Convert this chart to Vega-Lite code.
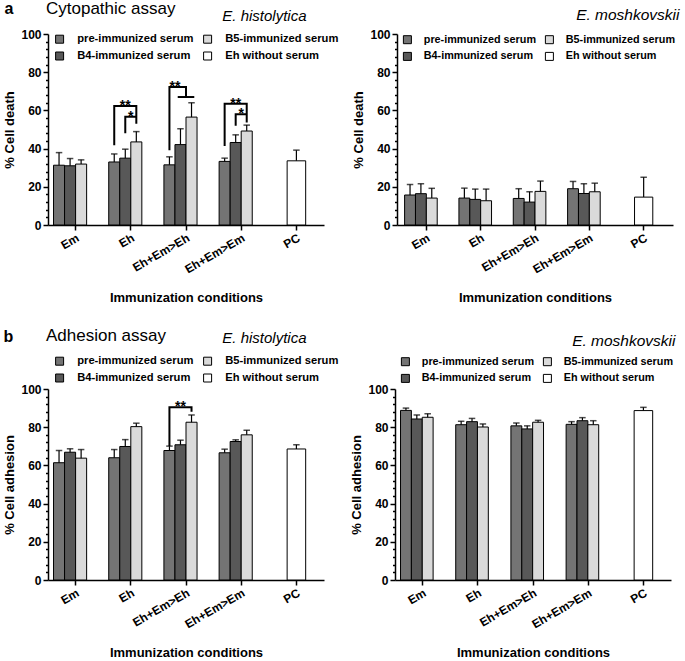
{
"$schema": "https://vega.github.io/schema/vega-lite/v6.json",
"padding": {"left": 3, "top": 0, "right": 2, "bottom": 2},
"config": {
  "font": "Liberation Sans",
  "view": {"stroke": null},
  "axis": {"grid": false, "domainColor": "black", "domainWidth": 1.5, "tickColor": "black", "tickWidth": 1.5, "labelFont": "Liberation Sans", "labelFontWeight": "bold", "labelFontSize": 12, "labelColor": "black", "titleFont": "Liberation Sans", "titleFontWeight": "bold", "titleFontSize": 13, "titleColor": "black"},
  "axisX": {"tickSize": 5, "labelPadding": 2, "labelAngle": -30},
  "legend": {"columns": 2, "symbolType": "square", "symbolSize": 64, "symbolStrokeColor": "black", "symbolStrokeWidth": 1, "labelFont": "Liberation Sans", "labelFontWeight": "bold", "labelFontSize": 11.2, "labelColor": "black", "labelOffset": 12, "columnPadding": -13, "rowPadding": 4, "symbolOpacity": 1, "titleFont": "Liberation Sans", "titleFontWeight": "normal", "titleFontSize": 17, "titleColor": "black", "titleLimit": 300}
},
"datasets": {
  "AL": [
    {"cond":"Em","serum":"pre-immunized serum","mean":31.3,"upper":37.9},
    {"cond":"Em","serum":"B4-immunized serum","mean":31,"upper":34.8},
    {"cond":"Em","serum":"B5-immunized serum","mean":31.9,"upper":34.1},
    {"cond":"Eh","serum":"pre-immunized serum","mean":33,"upper":37.2},
    {"cond":"Eh","serum":"B4-immunized serum","mean":35,"upper":39.7},
    {"cond":"Eh","serum":"B5-immunized serum","mean":43.5,"upper":48.9},
    {"cond":"Eh+Em>Eh","serum":"pre-immunized serum","mean":31.5,"upper":35.7},
    {"cond":"Eh+Em>Eh","serum":"B4-immunized serum","mean":42.1,"upper":50.4},
    {"cond":"Eh+Em>Eh","serum":"B5-immunized serum","mean":56.5,"upper":64},
    {"cond":"Eh+Em>Em","serum":"pre-immunized serum","mean":33.3,"upper":35},
    {"cond":"Eh+Em>Em","serum":"B4-immunized serum","mean":43.2,"upper":47.2},
    {"cond":"Eh+Em>Em","serum":"B5-immunized serum","mean":49.2,"upper":52.3},
    {"cond":"PC","serum":"Eh without serum","mean":33.6,"upper":39.2}
  ],
  "AR": [
    {"cond":"Em","serum":"pre-immunized serum","mean":15.7,"upper":21.2},
    {"cond":"Em","serum":"B4-immunized serum","mean":16.4,"upper":21.6},
    {"cond":"Em","serum":"B5-immunized serum","mean":14.1,"upper":19.2},
    {"cond":"Eh","serum":"pre-immunized serum","mean":14.1,"upper":19.3},
    {"cond":"Eh","serum":"B4-immunized serum","mean":13.4,"upper":18.8},
    {"cond":"Eh","serum":"B5-immunized serum","mean":12.7,"upper":18.8},
    {"cond":"Eh+Em>Eh","serum":"pre-immunized serum","mean":13.9,"upper":19},
    {"cond":"Eh+Em>Eh","serum":"B4-immunized serum","mean":12,"upper":17.4},
    {"cond":"Eh+Em>Eh","serum":"B5-immunized serum","mean":17.6,"upper":23},
    {"cond":"Eh+Em>Em","serum":"pre-immunized serum","mean":19,"upper":22.8},
    {"cond":"Eh+Em>Em","serum":"B4-immunized serum","mean":16.5,"upper":21.6},
    {"cond":"Eh+Em>Em","serum":"B5-immunized serum","mean":17.4,"upper":21.9},
    {"cond":"PC","serum":"Eh without serum","mean":14.6,"upper":25}
  ],
  "BL": [
    {"cond":"Em","serum":"pre-immunized serum","mean":61.4,"upper":67.8},
    {"cond":"Em","serum":"B4-immunized serum","mean":66.9,"upper":68.7},
    {"cond":"Em","serum":"B5-immunized serum","mean":63.8,"upper":68.3},
    {"cond":"Eh","serum":"pre-immunized serum","mean":64,"upper":68.3},
    {"cond":"Eh","serum":"B4-immunized serum","mean":69.9,"upper":73.5},
    {"cond":"Eh","serum":"B5-immunized serum","mean":80.3,"upper":82.1},
    {"cond":"Eh+Em>Eh","serum":"pre-immunized serum","mean":67.8,"upper":70.1},
    {"cond":"Eh+Em>Eh","serum":"B4-immunized serum","mean":70.8,"upper":73.2},
    {"cond":"Eh+Em>Eh","serum":"B5-immunized serum","mean":82.6,"upper":86.4},
    {"cond":"Eh+Em>Em","serum":"pre-immunized serum","mean":66.6,"upper":68.5},
    {"cond":"Eh+Em>Em","serum":"B4-immunized serum","mean":72.5,"upper":73.4},
    {"cond":"Eh+Em>Em","serum":"B5-immunized serum","mean":76,"upper":78.4},
    {"cond":"PC","serum":"Eh without serum","mean":68.6,"upper":70.8}
  ],
  "BR": [
    {"cond":"Em","serum":"pre-immunized serum","mean":88.8,"upper":90},
    {"cond":"Em","serum":"B4-immunized serum","mean":84.3,"upper":86.4},
    {"cond":"Em","serum":"B5-immunized serum","mean":85.2,"upper":87.1},
    {"cond":"Eh","serum":"pre-immunized serum","mean":81.3,"upper":83.1},
    {"cond":"Eh","serum":"B4-immunized serum","mean":82.9,"upper":84.6},
    {"cond":"Eh","serum":"B5-immunized serum","mean":80.1,"upper":81.7},
    {"cond":"Eh+Em>Eh","serum":"pre-immunized serum","mean":80.7,"upper":82.2},
    {"cond":"Eh+Em>Eh","serum":"B4-immunized serum","mean":79.1,"upper":80.7},
    {"cond":"Eh+Em>Eh","serum":"B5-immunized serum","mean":82.6,"upper":83.6},
    {"cond":"Eh+Em>Em","serum":"pre-immunized serum","mean":81.5,"upper":82.9},
    {"cond":"Eh+Em>Em","serum":"B4-immunized serum","mean":83.4,"upper":85},
    {"cond":"Eh+Em>Em","serum":"B5-immunized serum","mean":81.3,"upper":83.4},
    {"cond":"PC","serum":"Eh without serum","mean":88.7,"upper":90.4}
  ],
  "ALbr": [
    {"id":1,"k":1,"cond":"Eh","at":"pre","v":41.8},
    {"id":1,"k":2,"cond":"Eh","at":"pre","v":62.3},
    {"id":1,"k":3,"cond":"Eh","at":"B5","v":62.3},
    {"id":1,"k":4,"cond":"Eh","at":"B5","v":53},
    {"id":2,"k":1,"cond":"Eh","at":"B4","v":48},
    {"id":2,"k":2,"cond":"Eh","at":"B4","v":56.7},
    {"id":2,"k":3,"cond":"Eh","at":"B5","v":56.7},
    {"id":3,"k":1,"cond":"Eh+Em>Eh","at":"pre","v":39.2},
    {"id":3,"k":2,"cond":"Eh+Em>Eh","at":"pre","v":72.2},
    {"id":3,"k":3,"cond":"Eh+Em>Eh","at":"B4|B5","v":72.2},
    {"id":3,"k":4,"cond":"Eh+Em>Eh","at":"B4|B5","v":67},
    {"id":4,"k":1,"cond":"Eh+Em>Eh","at":"Tl","v":67},
    {"id":4,"k":2,"cond":"Eh+Em>Eh","at":"Tr","v":67},
    {"id":5,"k":1,"cond":"Eh+Em>Em","at":"pre","v":41.4},
    {"id":5,"k":2,"cond":"Eh+Em>Em","at":"pre","v":63.5},
    {"id":5,"k":3,"cond":"Eh+Em>Em","at":"B5","v":63.5},
    {"id":5,"k":4,"cond":"Eh+Em>Em","at":"B5","v":53.6},
    {"id":6,"k":1,"cond":"Eh+Em>Em","at":"B4","v":51.9},
    {"id":6,"k":2,"cond":"Eh+Em>Em","at":"B4","v":58},
    {"id":6,"k":3,"cond":"Eh+Em>Em","at":"B5","v":58}
  ],
  "ALst": [
    {"cond":"Eh","at":"B4","v":62.3,"label":"**"},
    {"cond":"Eh","at":"B4|B5","v":56.7,"label":"*"},
    {"cond":"Eh+Em>Eh","at":"pre|B4","v":72.2,"label":"**"},
    {"cond":"Eh+Em>Em","at":"B4","v":63.5,"label":"**"},
    {"cond":"Eh+Em>Em","at":"B4|B5","v":58,"label":"*"}
  ],
  "BLbr": [
    {"id":1,"k":1,"cond":"Eh+Em>Eh","at":"pre","v":70.1},
    {"id":1,"k":2,"cond":"Eh+Em>Eh","at":"pre","v":90.4},
    {"id":1,"k":3,"cond":"Eh+Em>Eh","at":"B5","v":90.4},
    {"id":1,"k":4,"cond":"Eh+Em>Eh","at":"B5","v":88.1}
  ],
  "BLst": [
    {"cond":"Eh+Em>Eh","at":"B4","v":90.4,"label":"**"}
  ]
},
"resolve": {"scale": {"fill": "independent"}, "legend": {"fill": "independent"}},
"spacing": 23,
"vconcat": [
 {
  "resolve": {"scale": {"fill": "independent"}, "legend": {"fill": "independent"}},
  "spacing": 13,
  "hconcat": [
   {
    "width": 276, "height": 191,
    "resolve": {"scale": {"xOffset": "independent"}, "axis": {"x": "independent", "y": "independent"}},
    "layer": [
     {"data": {"name": "AL"}, "transform": [{"filter": "datum.cond !== 'PC'"}], "mark": {"type": "bar", "stroke": "black", "strokeWidth": 1},
      "encoding": {
       "x": {"field": "cond", "type": "nominal", "scale": {"domain": ["Em","Eh","Eh+Em>Eh","Eh+Em>Em","PC"], "paddingInner": 0.2, "paddingOuter": 0.1}, "axis": {"title": "Immunization conditions", "titlePadding": 17}},
       "xOffset": {"field": "serum", "type": "nominal", "scale": {"domain": ["pre-immunized serum","B4-immunized serum","B5-immunized serum","Eh without serum"]}},
       "y": {"field": "mean", "type": "quantitative", "scale": {"domain": [0,100], "nice": false}, "axis": {"title": "% Cell death", "values": [0,4,8,12,16,20,24,28,32,36,40,44,48,52,56,60,64,68,72,76,80,84,88,92,96,100], "labelExpr": "datum.value % 20 === 0 ? datum.label : ''", "labelOverlap": false, "tickSize": 5, "tickDash": {"condition": {"test": "datum.value % 20 === 0", "value": []}, "value": [2.5, 10]}, "labelPadding": 2, "titlePadding": 4}},
       "fill": {"field": "serum", "type": "nominal", "scale": {"domain": ["pre-immunized serum","B4-immunized serum","B5-immunized serum","Eh without serum"], "range": ["#747474","#585858","#dadada","#ffffff"]}, "legend": {"title": "Cytopathic assay", "orient": "none", "legendX": -2, "legendY": -32.6, "titlePadding": 15, "symbolOffset": 8}}
      }},
     {"data": {"name": "AL"}, "transform": [{"filter": "datum.cond === 'PC'"}], "mark": {"type": "bar", "stroke": "black", "strokeWidth": 1, "width": {"band": 0.42}},
      "encoding": {"x": {"field": "cond", "type": "nominal", "axis": null}, "y": {"field": "mean", "type": "quantitative", "axis": null}, "fill": {"field": "serum", "type": "nominal"}}},
     {"data": {"name": "AL"}, "transform": [{"filter": "datum.cond !== 'PC'"}], "mark": {"type": "rule", "color": "black", "strokeWidth": 1.2},
      "encoding": {
       "x": {"field": "cond", "type": "nominal", "axis": {"orient": "top", "title": "E. histolytica", "domain": false, "ticks": false, "labels": false, "titleX": 258, "titleY": -14, "titleAlign": "right", "titleBaseline": "alphabetic", "titleAngle": 0, "titleFontStyle": "italic", "titleFontWeight": "normal", "titleFontSize": 15}},
       "xOffset": {"field": "serum", "type": "nominal", "scale": {"domain": ["pre-immunized serum","B4-immunized serum","B5-immunized serum","Eh without serum"]}},
       "y": {"field": "mean", "type": "quantitative", "axis": {"orient": "right", "title": "a", "domain": false, "ticks": false, "labels": false, "titleX": -320, "titleY": -20.5, "titleAngle": 0, "titleAlign": "left", "titleBaseline": "alphabetic", "titleFontSize": 16, "titleFontWeight": "bold"}},
       "y2": {"field": "upper"}}},
     {"data": {"name": "AL"}, "transform": [{"filter": "datum.cond !== 'PC'"}], "mark": {"type": "tick", "color": "black", "orient": "horizontal", "size": 6.5, "thickness": 1.5},
      "encoding": {"x": {"field": "cond", "type": "nominal", "axis": null}, "xOffset": {"field": "serum", "type": "nominal", "scale": {"domain": ["pre-immunized serum","B4-immunized serum","B5-immunized serum","Eh without serum"]}}, "y": {"field": "upper", "type": "quantitative", "axis": null}}},
     {"data": {"name": "AL"}, "transform": [{"filter": "datum.cond === 'PC'"}], "mark": {"type": "rule", "color": "black", "strokeWidth": 1.2},
      "encoding": {"x": {"field": "cond", "type": "nominal", "axis": null}, "y": {"field": "mean", "type": "quantitative", "axis": null}, "y2": {"field": "upper"}}},
     {"data": {"name": "AL"}, "transform": [{"filter": "datum.cond === 'PC'"}], "mark": {"type": "tick", "color": "black", "orient": "horizontal", "size": 6.5, "thickness": 1.5},
      "encoding": {"x": {"field": "cond", "type": "nominal", "axis": null}, "y": {"field": "upper", "type": "quantitative", "axis": null}}},
     {"data": {"name": "ALbr"}, "mark": {"type": "line", "color": "black", "strokeWidth": 2, "strokeJoin": "miter"},
      "encoding": {
       "x": {"field": "cond", "type": "nominal", "axis": null},
       "xOffset": {"field": "at", "type": "nominal", "scale": {"type": "point", "padding": 0, "domain": ["o0","o1","pre","o3","pre|B4","Tl","B4","o7","B4|B5","o9","B5","Tr","B5|Eh","o13","o14","o15","o16"]}},
       "y": {"field": "v", "type": "quantitative", "axis": null},
       "detail": {"field": "id", "type": "nominal"},
       "order": {"field": "k", "type": "quantitative"}}},
     {"data": {"name": "ALst"}, "mark": {"type": "text", "color": "black", "fontSize": 14, "fontWeight": "bold", "baseline": "alphabetic", "dy": 4},
      "encoding": {
       "x": {"field": "cond", "type": "nominal", "axis": null},
       "xOffset": {"field": "at", "type": "nominal", "scale": {"type": "point", "padding": 0, "domain": ["o0","o1","pre","o3","pre|B4","Tl","B4","o7","B4|B5","o9","B5","Tr","B5|Eh","o13","o14","o15","o16"]}},
       "y": {"field": "v", "type": "quantitative", "axis": null},
       "text": {"field": "label"}}}
    ]
   },
   {
    "width": 276, "height": 191,
    "resolve": {"axis": {"x": "independent", "y": "independent"}},
    "data": {"name": "AR"},
    "layer": [
     {"transform": [{"filter": "datum.cond !== 'PC'"}], "mark": {"type": "bar", "stroke": "black", "strokeWidth": 1},
      "encoding": {
       "x": {"field": "cond", "type": "nominal", "scale": {"domain": ["Em","Eh","Eh+Em>Eh","Eh+Em>Em","PC"], "paddingInner": 0.2, "paddingOuter": 0.14}, "axis": {"title": "Immunization conditions", "titlePadding": 17}},
       "xOffset": {"field": "serum", "type": "nominal", "scale": {"domain": ["pre-immunized serum","B4-immunized serum","B5-immunized serum","Eh without serum"]}},
       "y": {"field": "mean", "type": "quantitative", "scale": {"domain": [0,100], "nice": false}, "axis": {"title": "% Cell death", "values": [0,4,8,12,16,20,24,28,32,36,40,44,48,52,56,60,64,68,72,76,80,84,88,92,96,100], "labelExpr": "datum.value % 20 === 0 ? datum.label : ''", "labelOverlap": false, "tickSize": 5, "tickDash": {"condition": {"test": "datum.value % 20 === 0", "value": []}, "value": [2.5, 10]}, "labelPadding": 2, "titlePadding": 4}},
       "fill": {"field": "serum", "type": "nominal", "scale": {"domain": ["pre-immunized serum","B4-immunized serum","B5-immunized serum","Eh without serum"], "range": ["#747474","#585858","#dadada","#ffffff"]}, "legend": {"title": null, "orient": "none", "legendX": -3, "legendY": 0, "symbolOffset": 8, "labelFontSize": 10.8, "labelOffset": 11}}
      }},
     {"transform": [{"filter": "datum.cond === 'PC'"}], "mark": {"type": "bar", "stroke": "black", "strokeWidth": 1, "width": {"band": 0.42}},
      "encoding": {"x": {"field": "cond", "type": "nominal", "axis": null}, "y": {"field": "mean", "type": "quantitative", "axis": null}, "fill": {"field": "serum", "type": "nominal"}}},
     {"transform": [{"filter": "datum.cond !== 'PC'"}], "mark": {"type": "rule", "color": "black", "strokeWidth": 1.2},
      "encoding": {
       "x": {"field": "cond", "type": "nominal", "axis": {"orient": "top", "title": "E. moshkovskii", "domain": false, "ticks": false, "labels": false, "titleX": 282, "titleY": -15, "titleAlign": "right", "titleBaseline": "alphabetic", "titleAngle": 0, "titleFontStyle": "italic", "titleFontWeight": "normal", "titleFontSize": 15.5}},
       "xOffset": {"field": "serum", "type": "nominal"}, "y": {"field": "mean", "type": "quantitative", "axis": null}, "y2": {"field": "upper"}}},
     {"transform": [{"filter": "datum.cond !== 'PC'"}], "mark": {"type": "tick", "color": "black", "orient": "horizontal", "size": 6.5, "thickness": 1.5},
      "encoding": {"x": {"field": "cond", "type": "nominal", "axis": null}, "xOffset": {"field": "serum", "type": "nominal"}, "y": {"field": "upper", "type": "quantitative", "axis": null}}},
     {"transform": [{"filter": "datum.cond === 'PC'"}], "mark": {"type": "rule", "color": "black", "strokeWidth": 1.2},
      "encoding": {"x": {"field": "cond", "type": "nominal", "axis": null}, "y": {"field": "mean", "type": "quantitative", "axis": null}, "y2": {"field": "upper"}}},
     {"transform": [{"filter": "datum.cond === 'PC'"}], "mark": {"type": "tick", "color": "black", "orient": "horizontal", "size": 6.5, "thickness": 1.5},
      "encoding": {"x": {"field": "cond", "type": "nominal", "axis": null}, "y": {"field": "upper", "type": "quantitative", "axis": null}}}
    ]
   }
  ]
 },
 {
  "resolve": {"scale": {"fill": "independent"}, "legend": {"fill": "independent"}},
  "spacing": 11,
  "hconcat": [
   {
    "width": 276, "height": 191,
    "resolve": {"scale": {"xOffset": "independent"}, "axis": {"x": "independent", "y": "independent"}},
    "layer": [
     {"data": {"name": "BL"}, "transform": [{"filter": "datum.cond !== 'PC'"}], "mark": {"type": "bar", "stroke": "black", "strokeWidth": 1},
      "encoding": {
       "x": {"field": "cond", "type": "nominal", "scale": {"domain": ["Em","Eh","Eh+Em>Eh","Eh+Em>Em","PC"], "paddingInner": 0.2, "paddingOuter": 0.1}, "axis": {"title": "Immunization conditions", "titlePadding": 17}},
       "xOffset": {"field": "serum", "type": "nominal", "scale": {"domain": ["pre-immunized serum","B4-immunized serum","B5-immunized serum","Eh without serum"]}},
       "y": {"field": "mean", "type": "quantitative", "scale": {"domain": [0,100], "nice": false}, "axis": {"title": "% Cell adhesion", "values": [0,4,8,12,16,20,24,28,32,36,40,44,48,52,56,60,64,68,72,76,80,84,88,92,96,100], "labelExpr": "datum.value % 20 === 0 ? datum.label : ''", "labelOverlap": false, "tickSize": 5, "tickDash": {"condition": {"test": "datum.value % 20 === 0", "value": []}, "value": [2.5, 10]}, "labelPadding": 2, "titlePadding": 4}},
       "fill": {"field": "serum", "type": "nominal", "scale": {"domain": ["pre-immunized serum","B4-immunized serum","B5-immunized serum","Eh without serum"], "range": ["#747474","#585858","#dadada","#ffffff"]}, "legend": {"title": "Adhesion assay", "orient": "none", "legendX": -2, "legendY": -60.6, "titlePadding": 10, "symbolOffset": 8}}
      }},
     {"data": {"name": "BL"}, "transform": [{"filter": "datum.cond === 'PC'"}], "mark": {"type": "bar", "stroke": "black", "strokeWidth": 1, "width": {"band": 0.42}},
      "encoding": {"x": {"field": "cond", "type": "nominal", "axis": null}, "y": {"field": "mean", "type": "quantitative", "axis": null}, "fill": {"field": "serum", "type": "nominal"}}},
     {"data": {"name": "BL"}, "transform": [{"filter": "datum.cond !== 'PC'"}], "mark": {"type": "rule", "color": "black", "strokeWidth": 1.2},
      "encoding": {
       "x": {"field": "cond", "type": "nominal", "axis": {"orient": "top", "title": "E. histolytica", "domain": false, "ticks": false, "labels": false, "titleX": 258, "titleY": -47, "titleAlign": "right", "titleBaseline": "alphabetic", "titleAngle": 0, "titleFontStyle": "italic", "titleFontWeight": "normal", "titleFontSize": 15}},
       "xOffset": {"field": "serum", "type": "nominal", "scale": {"domain": ["pre-immunized serum","B4-immunized serum","B5-immunized serum","Eh without serum"]}},
       "y": {"field": "mean", "type": "quantitative", "axis": {"orient": "right", "title": "b", "domain": false, "ticks": false, "labels": false, "titleX": -321, "titleY": -48, "titleAngle": 0, "titleAlign": "left", "titleBaseline": "alphabetic", "titleFontSize": 16, "titleFontWeight": "bold"}},
       "y2": {"field": "upper"}}},
     {"data": {"name": "BL"}, "transform": [{"filter": "datum.cond !== 'PC'"}], "mark": {"type": "tick", "color": "black", "orient": "horizontal", "size": 6.5, "thickness": 1.5},
      "encoding": {"x": {"field": "cond", "type": "nominal", "axis": null}, "xOffset": {"field": "serum", "type": "nominal", "scale": {"domain": ["pre-immunized serum","B4-immunized serum","B5-immunized serum","Eh without serum"]}}, "y": {"field": "upper", "type": "quantitative", "axis": null}}},
     {"data": {"name": "BL"}, "transform": [{"filter": "datum.cond === 'PC'"}], "mark": {"type": "rule", "color": "black", "strokeWidth": 1.2},
      "encoding": {"x": {"field": "cond", "type": "nominal", "axis": null}, "y": {"field": "mean", "type": "quantitative", "axis": null}, "y2": {"field": "upper"}}},
     {"data": {"name": "BL"}, "transform": [{"filter": "datum.cond === 'PC'"}], "mark": {"type": "tick", "color": "black", "orient": "horizontal", "size": 6.5, "thickness": 1.5},
      "encoding": {"x": {"field": "cond", "type": "nominal", "axis": null}, "y": {"field": "upper", "type": "quantitative", "axis": null}}},
     {"data": {"name": "BLbr"}, "mark": {"type": "line", "color": "black", "strokeWidth": 2, "strokeJoin": "miter"},
      "encoding": {
       "x": {"field": "cond", "type": "nominal", "axis": null},
       "xOffset": {"field": "at", "type": "nominal", "scale": {"type": "point", "padding": 0, "domain": ["o0","o1","pre","o3","pre|B4","Tl","B4","o7","B4|B5","o9","B5","Tr","B5|Eh","o13","o14","o15","o16"]}},
       "y": {"field": "v", "type": "quantitative", "axis": null},
       "detail": {"field": "id", "type": "nominal"},
       "order": {"field": "k", "type": "quantitative"}}},
     {"data": {"name": "BLst"}, "mark": {"type": "text", "color": "black", "fontSize": 14, "fontWeight": "bold", "baseline": "alphabetic", "dy": 4},
      "encoding": {
       "x": {"field": "cond", "type": "nominal", "axis": null},
       "xOffset": {"field": "at", "type": "nominal", "scale": {"type": "point", "padding": 0, "domain": ["o0","o1","pre","o3","pre|B4","Tl","B4","o7","B4|B5","o9","B5","Tr","B5|Eh","o13","o14","o15","o16"]}},
       "y": {"field": "v", "type": "quantitative", "axis": null},
       "text": {"field": "label"}}}
    ]
   },
   {
    "width": 276, "height": 191,
    "resolve": {"axis": {"x": "independent", "y": "independent"}},
    "data": {"name": "BR"},
    "layer": [
     {"transform": [{"filter": "datum.cond !== 'PC'"}], "mark": {"type": "bar", "stroke": "black", "strokeWidth": 1},
      "encoding": {
       "x": {"field": "cond", "type": "nominal", "scale": {"domain": ["Em","Eh","Eh+Em>Eh","Eh+Em>Em","PC"], "paddingInner": 0.2, "paddingOuter": 0.1}, "axis": {"title": "Immunization conditions", "titlePadding": 17}},
       "xOffset": {"field": "serum", "type": "nominal", "scale": {"domain": ["pre-immunized serum","B4-immunized serum","B5-immunized serum","Eh without serum"]}},
       "y": {"field": "mean", "type": "quantitative", "scale": {"domain": [0,100], "nice": false}, "axis": {"title": "% Cell adhesion", "values": [0,4,8,12,16,20,24,28,32,36,40,44,48,52,56,60,64,68,72,76,80,84,88,92,96,100], "labelExpr": "datum.value % 20 === 0 ? datum.label : ''", "labelOverlap": false, "tickSize": 5, "tickDash": {"condition": {"test": "datum.value % 20 === 0", "value": []}, "value": [2.5, 10]}, "labelPadding": 2, "titlePadding": 4}},
       "fill": {"field": "serum", "type": "nominal", "scale": {"domain": ["pre-immunized serum","B4-immunized serum","B5-immunized serum","Eh without serum"], "range": ["#747474","#585858","#dadada","#ffffff"]}, "legend": {"title": null, "orient": "none", "legendX": -3, "legendY": -33, "symbolOffset": 8, "labelFontSize": 10.8, "labelOffset": 11}}
      }},
     {"transform": [{"filter": "datum.cond === 'PC'"}], "mark": {"type": "bar", "stroke": "black", "strokeWidth": 1, "width": {"band": 0.42}},
      "encoding": {"x": {"field": "cond", "type": "nominal", "axis": null}, "y": {"field": "mean", "type": "quantitative", "axis": null}, "fill": {"field": "serum", "type": "nominal"}}},
     {"transform": [{"filter": "datum.cond !== 'PC'"}], "mark": {"type": "rule", "color": "black", "strokeWidth": 1.2},
      "encoding": {
       "x": {"field": "cond", "type": "nominal", "axis": {"orient": "top", "title": "E. moshkovskii", "domain": false, "ticks": false, "labels": false, "titleX": 280, "titleY": -44, "titleAlign": "right", "titleBaseline": "alphabetic", "titleAngle": 0, "titleFontStyle": "italic", "titleFontWeight": "normal", "titleFontSize": 15.5}},
       "xOffset": {"field": "serum", "type": "nominal"}, "y": {"field": "mean", "type": "quantitative", "axis": null}, "y2": {"field": "upper"}}},
     {"transform": [{"filter": "datum.cond !== 'PC'"}], "mark": {"type": "tick", "color": "black", "orient": "horizontal", "size": 6.5, "thickness": 1.5},
      "encoding": {"x": {"field": "cond", "type": "nominal", "axis": null}, "xOffset": {"field": "serum", "type": "nominal"}, "y": {"field": "upper", "type": "quantitative", "axis": null}}},
     {"transform": [{"filter": "datum.cond === 'PC'"}], "mark": {"type": "rule", "color": "black", "strokeWidth": 1.2},
      "encoding": {"x": {"field": "cond", "type": "nominal", "axis": null}, "y": {"field": "mean", "type": "quantitative", "axis": null}, "y2": {"field": "upper"}}},
     {"transform": [{"filter": "datum.cond === 'PC'"}], "mark": {"type": "tick", "color": "black", "orient": "horizontal", "size": 6.5, "thickness": 1.5},
      "encoding": {"x": {"field": "cond", "type": "nominal", "axis": null}, "y": {"field": "upper", "type": "quantitative", "axis": null}}}
    ]
   }
  ]
 }
]
}
